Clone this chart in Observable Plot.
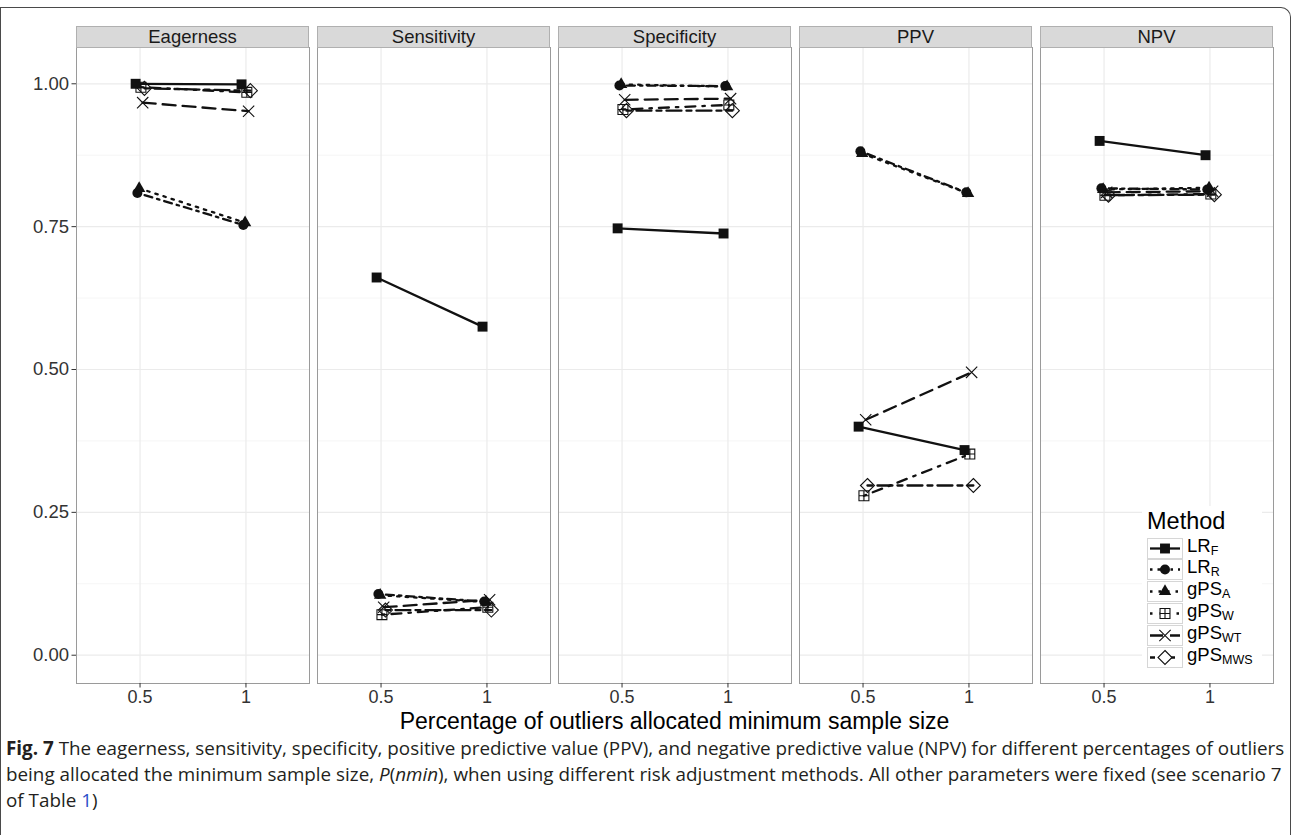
<!DOCTYPE html>
<html>
<head>
<meta charset="utf-8">
<script src="https://cdn.jsdelivr.net/npm/d3@7"></script>
<script src="https://cdn.jsdelivr.net/npm/@observablehq/plot@0.6"></script>
<style>
  html, body { margin: 0; padding: 0; background: #fff; }
  #wrap { position: relative; width: 1292px; height: 835px; overflow: hidden; font-family: "Liberation Sans", Arial, sans-serif; }
  #border { position: absolute; left: 0; top: 7px; width: 1291px; height: 900px; border: 1px solid #4a4a4a; border-bottom: none; border-top-right-radius: 10px; box-sizing: border-box; }
  #chart { position: absolute; left: 0; top: 0; }
  .strip { position: absolute; box-sizing: border-box; background: #d9d9d9; border: 1px solid #b0b0b0; color: #1a1a1a; font-size: 18.5px; text-align: center; }
  #xtitle { position: absolute; left: 0; width: 1292px; text-align: center; font-size: 23px; line-height: 20px; height: 20px; color: #000; }
  #legend { position: absolute; background: #fff; }
  #legend .title { position: absolute; left: 5px; font-size: 23.5px; color: #000; }
  #legend .row { position: absolute; left: 5px; height: 21px; }
  #legend .key { position: absolute; left: 0; top: 0; width: 36px; height: 21px; box-sizing: border-box; border: 1px solid #d6d6d6; }
  #legend .lab { position: absolute; left: 40px; top: -3px; font-size: 18.5px; line-height: 22px; color: #000; white-space: nowrap; }
  #legend .lab sub { font-size: 12.5px; vertical-align: -3px; line-height: 0; }
  #caption { position: absolute; left: 6px; top: 735px; font-family: "Open Sans", "Liberation Sans", Arial, sans-serif; font-size: 16px; line-height: 26px; color: #231f20; white-space: nowrap; }
  #caption > div { height: 26px; }
  #caption .line { display: inline-block; }
  #caption .ref { color: #2b4fc9; }
</style>
</head>
<body>
<div id="wrap">
  <div id="border"></div>
  <div id="chart"></div>
  <div id="strips"></div>
  <div id="xtitle">Percentage of outliers allocated minimum sample size</div>
  <div id="legend"></div>
  <div id="caption">
    <div><span class="line" id="capline1"><b>Fig. 7</b> The eagerness, sensitivity, specificity, positive predictive value (PPV), and negative predictive value (NPV) for different percentages of outliers</span></div>
    <div><span class="line">being allocated the minimum sample size, <i>P</i>(<i>nmin</i>), when using different risk adjustment methods. All other parameters were fixed (see scenario 7</span></div>
    <div><span class="line">of Table <span class="ref">1</span>)</span></div>
  </div>
</div>
<script>
// ---------- data ----------
const panels = ["Eagerness", "Sensitivity", "Specificity", "PPV", "NPV"];
const levels = ["0.5", "1"];
const methods = ["LR_F", "LR_R", "gPS_A", "gPS_W", "gPS_WT", "gPS_MWS"];
const methodBase = ["LR", "LR", "gPS", "gPS", "gPS", "gPS"];
const methodSub = ["F", "R", "A", "W", "WT", "MWS"];
const yTicks = [0, 0.25, 0.5, 0.75, 1];
const yMinor = [0.125, 0.375, 0.625, 0.875];

// values: [Eagerness 0.5, 1, Sensitivity 0.5, 1, Specificity 0.5, 1, PPV 0.5, 1, NPV 0.5, 1]
const LR_F    = [1.000, 0.999, 0.661, 0.575, 0.747, 0.738, 0.400, 0.359, 0.900, 0.875];
const LR_R    = [0.809, 0.753, 0.107, 0.094, 0.997, 0.996, 0.882, 0.810, 0.817, 0.815];
const gPS_A   = [0.817, 0.757, 0.105, 0.093, 0.999, 0.995, 0.878, 0.808, 0.815, 0.818];
const gPS_W   = [0.994, 0.985, 0.071, 0.084, 0.955, 0.963, 0.279, 0.352, 0.805, 0.807];
const gPS_WT  = [0.967, 0.952, 0.084, 0.097, 0.972, 0.974, 0.412, 0.495, 0.810, 0.812];
const gPS_MWS = [0.992, 0.988, 0.079, 0.079, 0.953, 0.953, 0.297, 0.297, 0.805, 0.806];
const series = [LR_F, LR_R, gPS_A, gPS_W, gPS_WT, gPS_MWS];

// ---------- styles ----------
const squarePlus = {
  draw(ctx, size) {
    const h = Math.sqrt(size) / 2;
    ctx.moveTo(-h, -h); ctx.lineTo(h, -h); ctx.lineTo(h, h); ctx.lineTo(-h, h); ctx.closePath();
    ctx.moveTo(0, -h); ctx.lineTo(0, h);
    ctx.moveTo(-h, 0); ctx.lineTo(h, 0);
  }
};
const styles = [
  {symbol: "square",   filled: true,  r: 5.6, dash: null},
  {symbol: "circle",   filled: true,  r: 5.0, dash: "2.5,5,8,5"},
  {symbol: "triangle", filled: true,  r: 4.6, dash: "2.5,6"},
  {symbol: squarePlus, filled: false, r: 5.6, dash: "2.5,7,10,7"},
  {symbol: "times",    filled: false, r: 5.2, dash: "13,7"},
  {symbol: "diamond2", filled: false, r: 6.3, dash: "5,5,15,5"}
];

// ---------- rows (dodged positions) ----------
const dodge = 0.1;
const rows = [];
methods.forEach((m, mi) => {
  series[mi].forEach((v, k) => {
    const p = Math.floor(k / 2), l = k % 2;
    rows.push({panel: panels[p], level: l + 1, method: m, value: v, xd: l + 1 + (mi - 2.5) * dodge / 6});
  });
});

const W = 1292, H = 735;
const mL = 75, mR = 18, mT = 47, mB = 52;
const ink = "#111";

const lineMarks = methods.map((m, mi) => Plot.line(rows.filter(d => d.method === m), {
  x: "xd", y: "value", fx: "panel", stroke: ink, strokeWidth: 2.3,
  strokeDasharray: styles[mi].dash || undefined
}));
const dotMarks = methods.map((m, mi) => Plot.dot(rows.filter(d => d.method === m), {
  x: "xd", y: "value", fx: "panel", symbol: styles[mi].symbol, r: styles[mi].r,
  fill: styles[mi].filled ? ink : "none",
  stroke: styles[mi].filled ? "none" : ink,
  strokeWidth: 1.1
}));

const plot = Plot.plot({
  width: W, height: H,
  marginTop: mT, marginBottom: mB, marginLeft: mL, marginRight: mR,
  style: {fontFamily: "Liberation Sans, Arial, sans-serif", background: "transparent", overflow: "visible"},
  fx: {domain: panels, paddingInner: 0.033, paddingOuter: 0, axis: null, label: null},
  x: {domain: [0.4, 2.6], label: null, axis: null},
  y: {domain: [-0.0495, 1.0635], label: null, axis: null},
  marks: [
    Plot.gridY(yMinor, {stroke: "#f2f2f2", strokeOpacity: 1, strokeWidth: 0.8}),
    Plot.gridY(yTicks, {stroke: "#ebebeb", strokeOpacity: 1, strokeWidth: 1.2}),
    Plot.gridX([1, 2], {stroke: "#ebebeb", strokeOpacity: 1, strokeWidth: 1.2}),
    ...lineMarks,
    ...dotMarks,
    Plot.frame({stroke: "#9a9a9a", strokeWidth: 1}),
    Plot.axisY(yTicks, {tickFormat: d3.format(".2f"), tickSize: 4.5, tickPadding: 3, fontSize: 18.5, color: "#333", label: null}),
    Plot.axisX([1, 2], {tickFormat: d => levels[d - 1], tickSize: 4.5, tickPadding: 2, fontSize: 18, color: "#333", label: null})
  ]
});
document.getElementById("chart").appendChild(plot);

// ---------- strips from the fx scale ----------
const fxs = plot.scale("fx");
const strips = document.getElementById("strips");
panels.forEach(p => {
  const d = document.createElement("div");
  d.className = "strip";
  const left = fxs.apply(p);
  d.style.left = left + "px";
  d.style.width = fxs.bandwidth + "px";
  d.style.top = "26px";
  d.style.height = (mT - 26 + 1) + "px";
  d.style.lineHeight = (mT - 26 - 1) + "px";
  d.textContent = p;
  strips.appendChild(d);
});

// x title
const xt = document.getElementById("xtitle");
xt.style.top = "711px";
const firstLeft = fxs.apply(panels[0]);
const lastRight = fxs.apply(panels[panels.length - 1]) + fxs.bandwidth;
xt.style.width = (firstLeft + lastRight) + "px";

// ---------- legend ----------
const legend = document.getElementById("legend");
legend.style.left = (lastRight - 131) + "px";
legend.style.top = "506px";
legend.style.width = "120px";
legend.style.height = "177px";
const title = document.createElement("div");
title.className = "title";
title.style.top = "2px";
title.textContent = "Method";
legend.appendChild(title);
methods.forEach((m, mi) => {
  const row = document.createElement("div");
  row.className = "row";
  row.style.top = (31.5 + mi * 21.8) + "px";
  const key = document.createElement("div");
  key.className = "key";
  const svg = d3.create("svg").attr("width", 34).attr("height", 19).style("position", "absolute").style("left", "0px").style("top", "0px");
  svg.append("line").attr("x1", 2).attr("x2", 32).attr("y1", 9.5).attr("y2", 9.5)
    .attr("stroke", ink).attr("stroke-width", 2.3)
    .attr("stroke-dasharray", styles[mi].dash ? styles[mi].dash : null);
  const sym = styles[mi].symbol;
  const symType = typeof sym === "string" ? ({square: d3.symbolSquare, circle: d3.symbolCircle, triangle: d3.symbolTriangle, times: d3.symbolTimes, diamond2: d3.symbolDiamond2})[sym] : sym;
  const r = styles[mi].r;
  svg.append("path").attr("transform", "translate(17,9.5)")
    .attr("d", d3.symbol(symType, Math.PI * r * r)())
    .attr("fill", styles[mi].filled ? ink : "white")
    .attr("stroke", styles[mi].filled ? "none" : ink)
    .attr("stroke-width", 1.1);
  key.appendChild(svg.node());
  row.appendChild(key);
  const lab = document.createElement("div");
  lab.className = "lab";
  lab.innerHTML = methodBase[mi] + "<sub>" + methodSub[mi] + "</sub>";
  row.appendChild(lab);
  legend.appendChild(row);
});

// ---------- caption: fit first line to the figure width ----------
const cap = document.getElementById("caption");
const l1 = document.getElementById("capline1");
const target = 1278;
const w0 = l1.getBoundingClientRect().width;
if (w0 > 0) {
  const fs = Math.max(14, Math.min(20, 16 * target / w0));
  cap.style.fontSize = fs.toFixed(2) + "px";
}
</script>
</body>
</html>
